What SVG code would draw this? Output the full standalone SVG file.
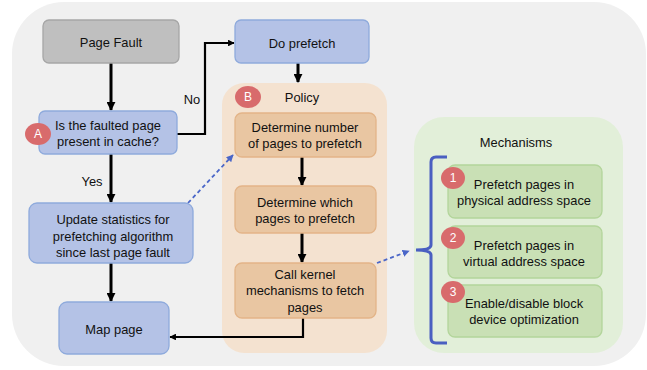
<svg xmlns="http://www.w3.org/2000/svg" width="647" height="370" viewBox="0 0 647 370">
<defs>
<marker id="ah" viewBox="0 0 10 10" refX="9" refY="5" markerWidth="3" markerHeight="3" orient="auto" markerUnits="strokeWidth"><path d="M0,0 L10,5 L0,10 z" fill="#000"/></marker>
<marker id="ahb" viewBox="0 0 10 10" refX="9" refY="5" markerWidth="4" markerHeight="4" orient="auto" markerUnits="strokeWidth"><path d="M0,0 L10,5 L0,10 z" fill="#4a66c8"/></marker>
<style>
text{font-family:"Liberation Sans",Arial,sans-serif;font-size:12.9px;fill:#111;text-anchor:middle;dominant-baseline:central}
.blue{fill:#b4c2e6;stroke:#8eaadc;stroke-width:1.3}
.gray{fill:#bfbfbf;stroke:#a6a6a6;stroke-width:1.3}
.org{fill:#e9c6a2;stroke:#e3b488;stroke-width:1.3}
.grn{fill:#c9e0b5;stroke:#b3d59b;stroke-width:1.3}
.badge{fill:#d86b6c}
.bt{fill:#fff;font-size:12px}
.k{fill:none;stroke:#000;stroke-width:3;marker-end:url(#ah)}
.k2{fill:none;stroke:#000;stroke-width:2.2;marker-end:url(#ah)}
.d{fill:none;stroke:#4a66c8;stroke-width:1.8;stroke-dasharray:4 3;marker-end:url(#ahb)}
</style>
</defs>
<rect x="12" y="2" width="634" height="364" rx="52" fill="#f0f0f0"/>
<g id="policy"><rect x="222" y="83" width="165" height="270" rx="22" fill="#f4e2d0"/><text x="302" y="97">Policy</text></g>
<g id="mechanisms"><rect x="414" y="117" width="209" height="236" rx="30" fill="#e2efd9"/><text x="516" y="142">Mechanisms</text></g>
<g id="connectors">
<path class="k" d="M111,63 V110"/>
<path class="k2" d="M177,134 H205 V43 H234"/>
<path class="k" d="M298,63 V82"/>
<path class="k" d="M111,154 V202"/>
<path class="k" d="M111,263 V301"/>
<path class="k" d="M302,157 V185"/>
<path class="k" d="M302,233 V262"/>
<path class="k2" d="M303,318 V337 H170"/>
<path class="d" d="M188,203 L233,155"/>
<path class="d" d="M377,263 L409,251"/>
<path d="M447,157 H436 Q431,157 431,162 V245 Q431,250 416,250 Q431,250 431,255 V338 Q431,343 436,343 H447" fill="none" stroke="#4a5fc1" stroke-width="3"/>
<text x="192" y="99">No</text>
<text x="92" y="181">Yes</text>
</g>
<g id="page-fault"><rect class="gray" x="43" y="20" width="136" height="43" rx="6"/><text x="111" y="42">Page Fault</text></g>
<g id="do-prefetch"><rect class="blue" x="235" y="20" width="134" height="43" rx="6"/><text x="302" y="43">Do prefetch</text></g>
<g id="in-cache"><rect class="blue" x="39" y="111" width="138" height="43" rx="6"/><text x="108" y="125">Is the faulted page</text><text x="108" y="141">present in cache?</text></g>
<g id="badge-a"><ellipse class="badge" cx="38" cy="134" rx="13" ry="11"/><text class="bt" x="38" y="134">A</text></g>
<g id="update-stats"><rect class="blue" x="29" y="203" width="164" height="60" rx="8"/><text x="113" y="219">Update statistics for</text><text x="113" y="236">prefetching algorithm</text><text x="113" y="252">since last page fault</text></g>
<g id="map-page"><rect class="blue" x="59" y="302" width="110" height="52" rx="8"/><text x="114" y="329">Map page</text></g>
<g id="badge-b"><ellipse class="badge" cx="248" cy="97" rx="13" ry="11"/><text class="bt" x="248" y="97">B</text></g>
<g id="det-number"><rect class="org" x="235" y="113" width="141" height="44" rx="7"/><text x="305" y="127">Determine number</text><text x="305" y="143">of pages to prefetch</text></g>
<g id="det-which"><rect class="org" x="235" y="186" width="141" height="47" rx="7"/><text x="305" y="202">Determine which</text><text x="305" y="218">pages to prefetch</text></g>
<g id="call-kernel"><rect class="org" x="235" y="263" width="141" height="55" rx="7"/><text x="305" y="274">Call kernel</text><text x="305" y="290">mechanisms to fetch</text><text x="305" y="307">pages</text></g>
<g id="mech-1"><rect class="grn" x="448" y="165" width="154" height="53" rx="7"/><text x="524" y="184">Prefetch pages in</text><text x="524" y="200">physical address space</text><ellipse class="badge" cx="453" cy="178" rx="12" ry="11"/><text class="bt" x="453" y="178">1</text></g>
<g id="mech-2"><rect class="grn" x="448" y="226" width="154" height="52" rx="7"/><text x="524" y="245">Prefetch pages in</text><text x="524" y="261">virtual address space</text><ellipse class="badge" cx="453" cy="238" rx="12" ry="11"/><text class="bt" x="453" y="238">2</text></g>
<g id="mech-3"><rect class="grn" x="448" y="285" width="154" height="52" rx="7"/><text x="524" y="303">Enable/disable block</text><text x="524" y="319">device optimization</text><ellipse class="badge" cx="453" cy="292" rx="12" ry="11"/><text class="bt" x="453" y="292">3</text></g>
</svg>
